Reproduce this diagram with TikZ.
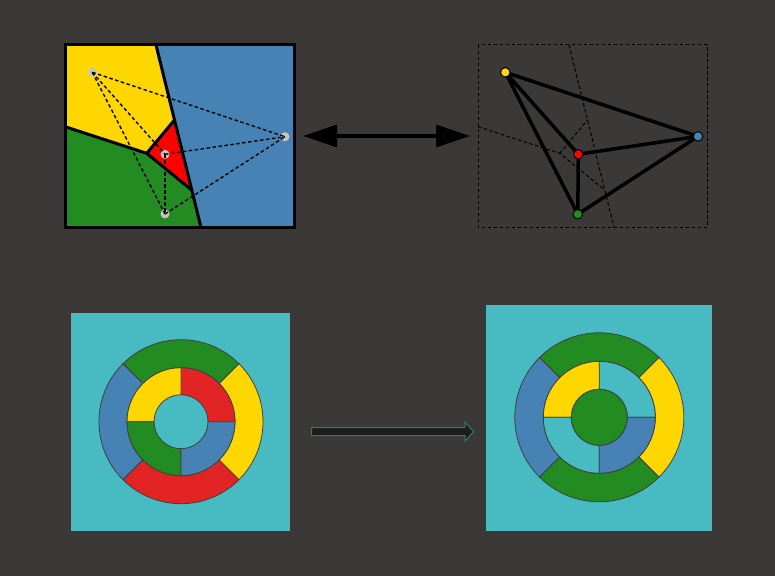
\documentclass[tikz,border=0pt]{standalone}
\usetikzlibrary{arrows.meta}
\definecolor{bgc}{HTML}{3A3937}
\definecolor{vyel}{HTML}{FFD700}
\definecolor{vblu}{HTML}{4682B4}
\definecolor{vgrn}{HTML}{228B22}
\definecolor{vred}{HTML}{FF0000}
\definecolor{rred}{HTML}{E32424}
\definecolor{teal}{HTML}{47BBC1}
\definecolor{arrfill}{HTML}{1C1C1C}
\definecolor{arredge}{HTML}{2E7D62}
\definecolor{sitegray}{HTML}{C4C4C4}
\newcommand{\ringseg}[6]{\draw[ringline,fill=#6,shift={#1}] (#2:#4pt) arc[start angle=#2,end angle=#3,radius=#4pt] -- (#3:#5pt) arc[start angle=#3,end angle=#2,radius=#5pt] -- cycle;}
\begin{document}
\begin{tikzpicture}[x=1pt,y=1pt,
  voredge/.style={line width=3pt,line join=round},
  dline/.style={line width=1.4pt,dash pattern=on 3.5pt off 2.5pt},
  thindash/.style={line width=1pt,dash pattern=on 3.5pt off 2.5pt},
  site/.style={circle,fill=sitegray,inner sep=0pt,minimum size=9pt},
  gnode/.style={circle,draw=black,line width=1pt,inner sep=0pt,minimum size=9.5pt},
  gedge/.style={line width=3.5pt},
  ringline/.style={draw=black!75,line width=0.8pt}]
\fill[bgc] (0,0) rectangle (775,576);
\useasboundingbox (0,0) rectangle (775,576);
% ---------- top left: Voronoi regions ----------
\coordinate (T) at (156,531);
\coordinate (B) at (201,348.5);
\coordinate (vA) at (174.5,456);
\coordinate (vB) at (146.7,422.7);
\coordinate (vC) at (191.7,386);
\coordinate (L) at (65,449.3);
\fill[vyel] (65,531) -- (T) -- (vA) -- (vB) -- (L) -- cycle;
\fill[vblu] (T) -- (294,531) -- (294,348.5) -- (B) -- cycle;
\fill[vgrn] (L) -- (vB) -- (vC) -- (B) -- (65,348.5) -- cycle;
\fill[vred] (vA) -- (vB) -- (vC) -- cycle;
\draw[voredge] (T) -- (B);
\draw[voredge] (L) -- (vB) -- (vC);
\draw[voredge] (vB) -- (vA);
\draw[line width=3pt] (65,531) rectangle (294,348.5);
\node[site] (sy) at (92.3,503.7) {};
\node[site] (sb) at (285,439.3) {};
\node[site] (sr) at (165,421.7) {};
\node[site] (sg) at (165,362) {};
\draw[dline] (sy.center) -- (sb.center);
\draw[dline] (sy.center) -- (sr.center);
\draw[dline] (sy.center) -- (sg.center);
\draw[dline] (sr.center) -- (sb.center);
\draw[dline] (sr.center) -- (sg.center);
\draw[dline] (sg.center) -- (sb.center);
% ---------- top right: Delaunay graph ----------
\coordinate (T2) at (569,531);
\coordinate (B2) at (614,348.5);
\coordinate (vA2) at (587.5,456);
\coordinate (vB2) at (559.7,422.7);
\coordinate (vC2) at (604.7,386);
\coordinate (L2) at (478,449.3);
\draw[thindash] (478,531) rectangle (707,348.5);
\draw[thindash] (T2) -- (B2);
\draw[thindash] (L2) -- (vB2) -- (vC2);
\draw[thindash] (vB2) -- (vA2);
\coordinate (gy) at (505.3,503.7);
\coordinate (gb) at (698,439.6);
\coordinate (gr) at (578.3,421.7);
\coordinate (gg) at (577.8,361.8);
\draw[gedge] (gy) -- (gb);
\draw[gedge] (gy) -- (gr);
\draw[gedge] (gy) -- (gg);
\draw[gedge] (gr) -- (gb);
\draw[gedge] (gr) -- (gg);
\draw[gedge] (gg) -- (gb);
\node[gnode,fill=vyel] (ny) at (gy) {};
\node[gnode,fill=vblu] (nb) at (gb) {};
\node[gnode,fill=vred] (nr) at (gr) {};
\node[gnode,fill=vgrn] (ng) at (gg) {};
% ---------- double arrow ----------
\coordinate (dl) at (303,440);
\coordinate (dr) at (470,440);
\draw[line width=3.3pt,{Triangle[length=34pt,width=22pt]}-{Triangle[length=34pt,width=22pt]}] (dl) -- (dr);
% ---------- bottom left ----------
\fill[teal] (71,263) rectangle (290,45);
\coordinate (c1) at (181,154.3);
\ringseg{(c1)}{45}{135}{82}{54}{vgrn}
\ringseg{(c1)}{135}{225}{82}{54}{vblu}
\ringseg{(c1)}{225}{315}{82}{54}{rred}
\ringseg{(c1)}{-45}{45}{82}{54}{vyel}
\ringseg{(c1)}{0}{90}{54}{27}{rred}
\ringseg{(c1)}{90}{180}{54}{27}{vyel}
\ringseg{(c1)}{180}{270}{54}{27}{vgrn}
\ringseg{(c1)}{270}{360}{54}{27}{vblu}
% ---------- bottom right ----------
\fill[teal] (486,271) rectangle (712,45);
\coordinate (c2) at (599.3,158.7);
\ringseg{(c2)}{45}{135}{84.5}{56}{vgrn}
\ringseg{(c2)}{135}{225}{84.5}{56}{vblu}
\ringseg{(c2)}{225}{315}{84.5}{56}{vgrn}
\ringseg{(c2)}{-45}{45}{84.5}{56}{vyel}
\ringseg{(c2)}{0}{90}{56}{28}{teal}
\ringseg{(c2)}{90}{180}{56}{28}{vyel}
\ringseg{(c2)}{180}{270}{56}{28}{teal}
\ringseg{(c2)}{270}{360}{56}{28}{vblu}
\draw[ringline,fill=vgrn] (c2) circle[radius=28pt];
% ---------- block arrow ----------
\draw[fill=arrfill,draw=arredge,line width=1pt,line join=miter]
  (311.7,148.3) -- (465,148.3) -- (465,153.8) -- (473.5,144.3) -- (465,134.8) -- (465,140.3) -- (311.7,140.3) -- cycle;
\end{tikzpicture}
\end{document}
